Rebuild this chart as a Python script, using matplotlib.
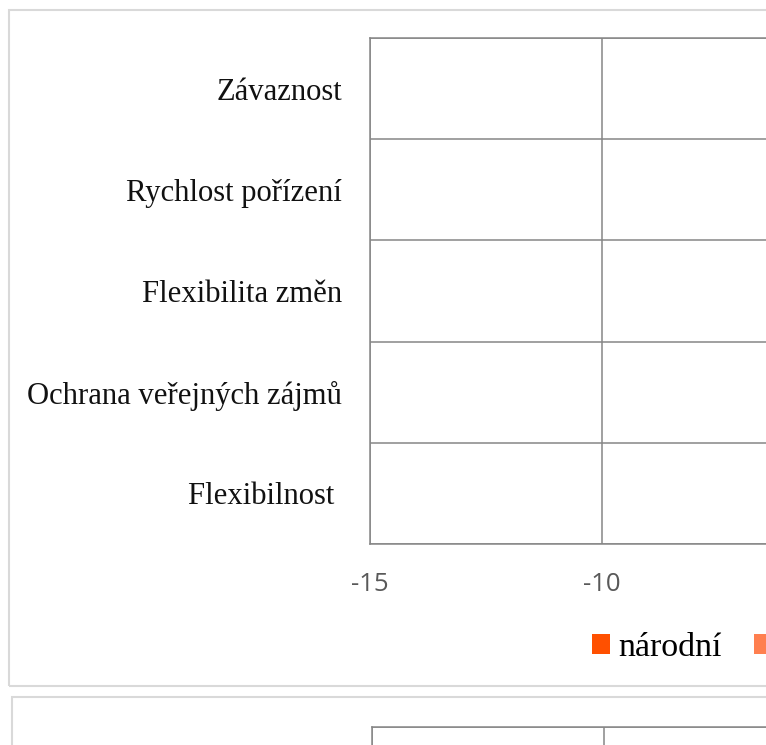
import numpy as np
import matplotlib.pyplot as plt
from matplotlib.patches import Rectangle

plt.rcParams['axes.unicode_minus'] = False

# data (bars lie to the right of the visible part of the chart)
kategorie = ['Závaznost', 'Rychlost pořízení', 'Flexibilita změn',
             'Ochrana veřejných zájmů', 'Flexibilnost ']
narodni = [3, 2, -2, 4, 1]
druha_rada = [2, 1, -1, 3, 2]
serie_nazvy = ['národní', 'evropská']
barvy = ['#FF5000', '#FF7F4F']
xmin, xmax = -15, 10

W, H = 766, 745
fig = plt.figure(figsize=(W / 100, H / 100), dpi=100)


def px_axes(left, top, width, height):
    return fig.add_axes([left / W, 1 - (top + height) / H, width / W, height / H])


def styl(ax):
    ax.set_xlim(xmin, xmax)
    ax.set_xticks(np.arange(xmin, xmax + 1, 5))
    ax.set_ylim(len(kategorie) - 0.5, -0.5)
    ax.set_yticks(np.arange(len(kategorie)))
    ax.set_yticks(np.arange(len(kategorie) + 1) - 0.5, minor=True)
    ax.grid(True, axis='x', color='#868686', lw=1.1)
    ax.grid(True, axis='y', which='minor', color='#868686', lw=1.1)
    ax.tick_params(which='both', length=0)
    ax.tick_params(axis='x', pad=20, labelsize=18.5, labelcolor='#595959')
    for lab in ax.get_xticklabels():
        lab.set_family('Open Sans')
    ax.tick_params(axis='y', pad=20)
    ax.set_yticklabels(kategorie, family='Liberation Serif', fontsize=22.1, color='#111111')
    for s in ax.spines.values():
        s.set_color('#868686')
        s.set_linewidth(1.1)
    ax.set_axisbelow(True)


y = np.arange(len(kategorie))
h = 0.35
ax = px_axes(370, 38, (xmax - xmin) * 46.4, 506)
styl(ax)
bars1 = ax.barh(y - h / 2, narodni, h, color=barvy[0], label=serie_nazvy[0])
bars2 = ax.barh(y + h / 2, druha_rada, h, color=barvy[1], label=serie_nazvy[1])

# second chart below (only its top edge is visible)
ax2 = px_axes(372, 727, (xmax - xmin) * 46.4, 506)
styl(ax2)

fig.legend(handles=[bars1, bars2], loc='upper left',
           bbox_to_anchor=(592 / W, 1 - 632 / H), ncol=2, frameon=False,
           prop={'family': 'Liberation Serif', 'size': 24.5},
           handlelength=0.53, handleheight=0.53, handletextpad=0.24,
           columnspacing=0.95, borderpad=0, borderaxespad=0)

# chart borders
for (x0, y0, x1, y1) in [(9, 10, 800, 686), (12, 697, 800, 800)]:
    fig.add_artist(Rectangle((x0 / W, 1 - y1 / H), (x1 - x0) / W, (y1 - y0) / H,
                             transform=fig.transFigure, fill=False,
                             edgecolor='#d9d9d9', lw=1.5, clip_on=False))

fig.savefig('out.png', dpi=100)
